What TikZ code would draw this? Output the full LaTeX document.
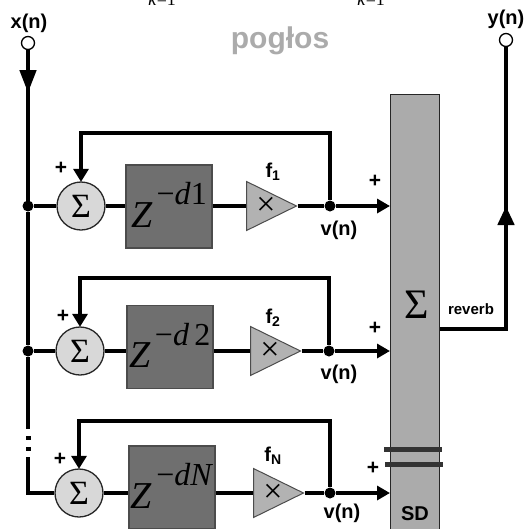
\documentclass[tikz,border=0pt]{standalone}
\usepackage{xcolor}
\usepackage{fontspec}
\setmainfont{Liberation Sans}
\newfontfamily\serifz{Liberation Serif}
\usetikzlibrary{shapes.geometric, arrows.meta, calc}
\definecolor{sumgray}{HTML}{D8D8D8}
\definecolor{delaygray}{HTML}{6F6F6F}
\definecolor{gaingray}{HTML}{B2B2B2}
\definecolor{bargray}{HTML}{ABABAB}
\definecolor{titlegray}{HTML}{ABABAB}
\newcommand{\delaytext}[1]{\smash{\serifz\fontsize{38}{38}\selectfont\raisebox{-20.5pt}{\textit{Z}}\hspace{4pt}\fontsize{32}{32}\selectfont\raisebox{2pt}{−#1}}}
\tikzset{
    sumnode/.style={circle, draw=black!85, line width=1.3pt, fill=sumgray, minimum size=48pt, inner sep=0pt, font=\serifz\fontsize{34}{34}\selectfont},
    delaybox/.style={rectangle, draw=black!70, line width=1.3pt, fill=delaygray, minimum width=86pt, minimum height=83pt, inner sep=0pt},
    gain/.style={isosceles triangle, isosceles triangle apex angle=52, isosceles triangle stretches, draw=black!70, line width=1pt, fill=gaingray, minimum width=49pt, minimum height=50pt, inner sep=0pt, anchor=lower side},
    gainmark/.style={inner sep=0pt, font=\serifz\fontsize{34}{34}\selectfont},
    port/.style={circle, draw=black, line width=1.3pt, fill=white, minimum size=13pt, inner sep=0pt},
    joint/.style={circle, fill=black, minimum size=11pt, inner sep=0pt},
    label/.style={inner sep=0pt, font=\bfseries\fontsize{20}{20}\selectfont},
    plus/.style={inner sep=0pt, font=\bfseries\fontsize{21}{21}\selectfont},
    wire/.style={line width=4.5pt, draw=black},
    feed/.style={wire, -{Triangle[length=13pt, width=15pt]}, shorten >=-0.5pt},
    outarrow/.style={wire, -{Triangle[length=13pt, width=14pt]}},
    stroke/.style={line width=5pt, draw=black!80}
}
\begin{document}
\begin{tikzpicture}[x=1pt, y=-1pt]
    \clip (0,0) rectangle (530,528);
    % Nodes
    \node (title) [inner sep=0pt, text=titlegray, font=\bfseries\fontsize{30}{30}\selectfont] at (280,41) {pogłos};
    \node (limA) [inner sep=0pt, font=\serifz\fontsize{18}{18}\selectfont] at (162,0) {\textit{κ}=1};
    \node (limB) [inner sep=0pt, font=\serifz\fontsize{18}{18}\selectfont] at (371,0) {\textit{κ}=1};

    \node (bar) [rectangle, draw=black!85, line width=1.2pt, fill=bargray, minimum width=49pt, minimum height=450pt, inner sep=0pt, anchor=north west] at (390,94) {};
    \node (barsum) [inner sep=0pt, font=\serifz\fontsize{42}{42}\selectfont] at (417,305) {Σ};
    \node (sd) [label] at (415,514) {SD};
    \node (reverb) [inner sep=0pt, font=\bfseries\fontsize{15}{15}\selectfont] at (471,309) {reverb};

    \node (xlabel) [label] at (29,23) {x(n)};
    \node (ylabel) [label] at (506,19) {y(n)};

    \coordinate (xtip) at (28,93);
    \coordinate (ytip) at (506,206);

    % Input and output lines go under their ports
    \draw [wire] (28,43) -- (28,206);
    \draw [wire, line width=4pt] (506,40) -- (506,329);
    \node (xin) [port] at (28,43) {};
    \node (yout) [port] at (506,40) {};

    \node (sumA) [sumnode] at (81,206) {Σ};
    \node (delayA) [delaybox] at (169,206.5) {\delaytext{\textit{d}1}};
    \node (gainA) [gain] at (246,206) {};
    \node (crossA) [gainmark] at (266,206) {×};
    \node (jointA) [joint] at (330,206) {};
    \node (splitA) [joint] at (28,206) {};
    \node (plusA) [plus] at (61,168) {+};
    \node (fA) [label] at (273,172) {f\textsubscript{1}};
    \node (vA) [label] at (339,230) {v(n)};
    \node (plusBarA) [plus] at (375,181) {+};

    \node (sumB) [sumnode] at (80,351) {Σ};
    \node (delayB) [delaybox] at (170,347) {\delaytext{\textit{d}\,2}};
    \node (gainB) [gain] at (250,351) {};
    \node (crossB) [gainmark] at (270,351) {×};
    \node (jointB) [joint] at (329,351) {};
    \node (splitB) [joint] at (28,351) {};
    \node (plusB) [plus] at (63,316) {+};
    \node (fB) [label] at (273,318) {f\textsubscript{2}};
    \node (vB) [label] at (339,374) {v(n)};
    \node (plusBarB) [plus] at (375,328) {+};

    \node (sumC) [sumnode] at (79,493) {Σ};
    \node (delayC) [delaybox] at (172,487.5) {\delaytext{\textit{dN}}};
    \node (gainC) [gain] at (253,493) {};
    \node (crossC) [gainmark] at (273,493) {×};
    \node (jointC) [joint] at (330,493) {};
    \node (plusC) [plus] at (60,459) {+};
    \node (fC) [label] at (273,456) {f\textsubscript{N}};
    \node (vC) [label] at (342,513) {v(n)};
    \node (plusBarC) [plus] at (373,468) {+};

    \coordinate (gapTop) at (28,429);
    \coordinate (gapBot) at (28,457);
    \coordinate (corner) at (28,493);

    % Arrows
    \draw [wire, -{Triangle[length=23pt, width=16pt]}] (28,68) -- (xtip);
    \draw [wire, line width=4pt] (splitA) -- (splitB);
    \draw [wire, line width=4pt] (splitB) -- (gapTop);
    \draw [wire, line width=4pt] (gapBot) -- (corner) -- (sumC);
    \draw [line width=5pt, draw=black, dash pattern=on 4pt off 7pt] (28,436) -- (28,451);

    \draw [wire] (splitA) -- (sumA);
    \draw [wire] (sumA) -- (delayA.west |- sumA);
    \draw [wire] (delayA.east |- sumA) -- (gainA.lower side);
    \draw [wire] (gainA.apex) -- (jointA);
    \draw [outarrow] (jointA) -- (jointA -| bar.west);
    \draw [feed] (jointA) -- ++(0,-73) -| (sumA.north);

    \draw [wire] (splitB) -- (sumB);
    \draw [wire] (sumB) -- (delayB.west |- sumB);
    \draw [wire] (delayB.east |- sumB) -- (gainB.lower side);
    \draw [wire] (gainB.apex) -- (jointB);
    \draw [outarrow] (jointB) -- (jointB -| bar.west);
    \draw [feed] (jointB) -- ++(0,-73) -| (sumB.north);

    \draw [wire] (sumC) -- (delayC.west |- sumC);
    \draw [wire] (delayC.east |- sumC) -- (gainC.lower side);
    \draw [wire] (gainC.apex) -- (jointC);
    \draw [outarrow] (jointC) -- (jointC -| bar.west);
    \draw [feed] (jointC) -- ++(0,-72) -| (sumC.north);

    % Output
    \draw [wire] (bar.east |- 0,329) -- (508,329);
    \draw [wire, -{Triangle[length=19pt, width=16pt]}] (506,228) -- (ytip);

    % Break marks
    \draw [stroke] (384,449) -- (442,449);
    \draw [stroke] (385,464) -- (443,464);
\end{tikzpicture}
\end{document}
